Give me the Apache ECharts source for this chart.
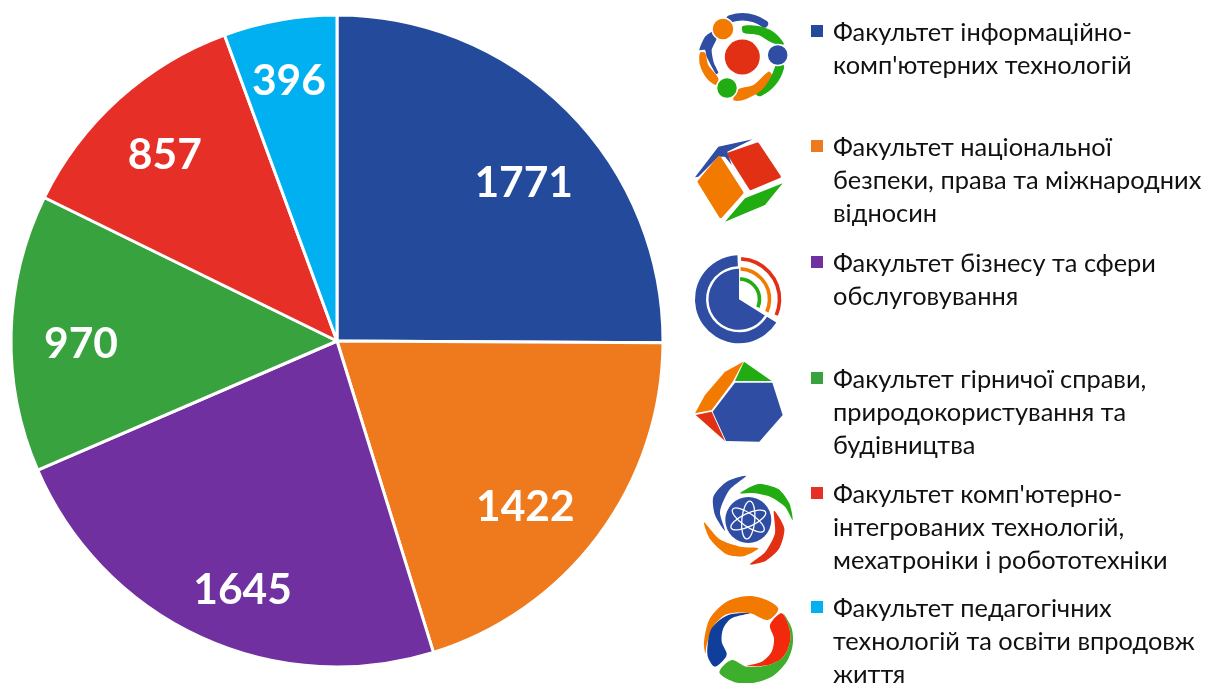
<!DOCTYPE html>
<html><head><meta charset="utf-8">
<style>html,body{margin:0;padding:0;background:#fff;overflow:hidden}#c{width:1205px;height:683px}</style>
<script src="https://cdn.jsdelivr.net/npm/echarts@6/dist/echarts.min.js"></script>
</head><body><div id="c"></div>
<script>
const categories = [
  "Факультет інформаційно-комп'ютерних технологій",
  "Факультет національної безпеки, права та міжнародних відносин",
  "Факультет бізнесу та сфери обслуговування",
  "Факультет гірничої справи, природокористування та будівництва",
  "Факультет комп'ютерно-інтегрованих технологій, мехатроніки і робототехніки",
  "Факультет педагогічних технологій та освіти впродовж життя"
];
const legendLines = [
  ["Факультет інформаційно-", "комп'ютерних технологій"],
  ["Факультет національної", "безпеки, права та міжнародних", "відносин"],
  ["Факультет бізнесу та сфери", "обслуговування"],
  ["Факультет гірничої справи,", "природокористування та", "будівництва"],
  ["Факультет комп'ютерно-", "інтегрованих технологій,", "мехатроніки і робототехніки"],
  ["Факультет педагогічних", "технологій та освіти впродовж", "життя"]
];
const values = [1771, 1422, 1645, 970, 857, 396];
const colors = ['#234A9B', '#EF7A1D', '#70309F', '#38A23F', '#E62F27', '#00B0F0'];
const legendFirstLineY = [33, 148, 264, 380, 495, 609];
const labelShift = [[69,-41],[55,67],[-25,99],[-90,7],[-61,-62],[-19,-96]];

const FONT = 'Lato';
const LH = 33;
const el = [];
const B='#2E4DA3', O='#F27A00', R='#E23014', G='#21AD12';
function poly(ox,oy,pts,fill,smooth,sw){
  el.push({type:'polygon',silent:true,shape:{points:pts.map(p=>[ox+p[0]/3,oy+p[1]/3]),smooth:smooth||0},
    style:{fill:fill,stroke:sw?fill:null,lineWidth:sw||0,lineJoin:'round'}});
}
function circ(x,y,r,fill,halo){el.push({type:'circle',silent:true,shape:{cx:x,cy:y,r:r},style:{fill:fill,stroke:halo?'#fff':null,lineWidth:halo?1.5:0}});}
function arc(x,y,r,a,b,stroke,w,cap){
  el.push({type:'arc',silent:true,shape:{cx:x,cy:y,r:r,startAngle:a*Math.PI/180,endAngle:b*Math.PI/180,clockwise:true},style:{fill:null,stroke:stroke,lineWidth:w,lineCap:cap||'butt'}});
}
function sect(x,y,r0,r,a,b,fill){
  el.push({type:'sector',silent:true,shape:{cx:x,cy:y,r0:r0,r:r,startAngle:a*Math.PI/180,endAngle:b*Math.PI/180,clockwise:true},style:{fill:fill}});
}
// logo 1
arc(742,57,40,253,304,B,7.5,'round');
poly(690,0,[[158,78],[205,78],[250,95],[282,132],[250,130],[205,105],[160,98]],G,0.3);
arc(742,57,39,15,63,G,9,'round');
poly(690,0,[[235,215],[245,225],[215,270],[160,300],[130,300],[145,268],[190,255]],O,0.3);
poly(690,0,[[30,158],[45,158],[55,195],[85,235],[78,255],[50,235],[30,195]],O,0.3);
poly(690,0,[[28,150],[45,110],[68,95],[80,115],[65,150],[72,190],[85,218],[78,222],[50,170],[45,150]],B,0.2);
circ(742.3,57,17.5,R); circ(777.7,55,10.5,B,1); circ(723,29,11,O,1); circ(727,88,10.5,G,1);
// logo 2
poly(690,0,[[15,532],[85,440],[188,418],[112,455],[125,495],[105,470],[85,470],[25,530]],B);
poly(690,0,[[27,545],[88,472],[156,578],[92,650]],O,0,3);
poly(690,0,[[116,462],[203,432],[268,530],[182,566]],R,0,3);
poly(690,0,[[105,665],[165,595],[278,550],[225,615]],G);
// logo 3
const cx3=739,cy3=299.3;
sect(cx3,cy3,33,44,32,268,B);
sect(cx3,cy3,0,30.5,32,270,B);
arc(cx3,cy3,40.5,273,23,R,3.6);
arc(cx3,cy3,30.5,273,24,O,3.6);
arc(cx3,cy3,20.5,273,23,G,3.6);
// logo 4
poly(690,240,[[68,515],[135,428],[247,428],[278,525],[208,605],[108,603]],B);
poly(690,240,[[162,365],[245,423],[135,423]],G);
poly(690,240,[[15,520],[45,465],[105,395],[160,365],[128,425],[65,510]],O);
poly(690,240,[[17,525],[65,515],[105,603]],R);
// logo 5
poly(690,465,[[168,33],[110,50],[70,95],[75,150],[105,197],[90,140],[118,75]],B,0.25);
poly(690,465,[[150,85],[205,57],[265,72],[298,115],[308,165],[285,125],[240,95],[190,84]],G,0.25);
poly(690,465,[[252,137],[283,190],[268,250],[228,287],[180,298],[225,262],[255,205]],R,0.25);
poly(690,465,[[42,172],[60,222],[110,268],[160,274],[205,250],[150,245],[88,222]],O,0.25);
circ(748.3,520,23,B);
[25,85,145].forEach(rot=>el.push({type:'ellipse',silent:true,x:748.3,y:520,rotation:rot*Math.PI/180,shape:{cx:0,cy:0,rx:19,ry:6.5},style:{fill:null,stroke:'#fff',lineWidth:1.3}}));
// logo 6
poly(690,465,[[280,445],[305,490],[308,540],[290,590],[245,635],[180,655],[130,650],[88,622],[125,585],[170,605],[235,600],[280,575],[300,530],[298,490]],'#3EAF2C',0.3);
poly(690,465,[[42,530],[60,460],[110,410],[175,393],[230,405],[265,432],[233,465],[180,445],[110,448],[70,485],[50,540],[46,565]],O,0.3);
poly(690,465,[[52,550],[65,490],[115,450],[180,445],[125,460],[100,490],[95,530],[110,570],[75,605],[55,580]],'#0F3F9A',0.3);
poly(690,465,[[240,480],[275,445],[298,490],[300,530],[280,575],[235,600],[170,603],[215,590],[245,560],[252,520]],'#F2290C',0.3);

const legends = categories.map((name,i)=>{
  const h = legendLines[i].length*LH;
  return {
    data:[name], left:811, top:legendFirstLineY[i]-LH/2, orient:'vertical', padding:0, selectedMode:false,
    itemWidth:17, itemHeight:h,
    icon:`path://M0 ${LH/2-8}H12V${LH/2+4}H0Z M0 0L0 0Z M17 ${h}L17 ${h}Z`,
    itemStyle:{borderWidth:0},
    formatter:()=>legendLines[i].join('\n'),
    textStyle:{fontFamily:FONT,fontSize:25.4,lineHeight:LH,color:'#111'}
  };
});

const chart = echarts.init(document.getElementById('c'),null,{renderer:'canvas'});
chart.setOption({
  animation:false,
  backgroundColor:'#fff',
  color:colors,
  legend:legends,
  graphic:{elements:el},
  series:[{
    type:'pie', center:[337,341], radius:[0,326], startAngle:90, clockwise:true,
    minShowLabelAngle:0, avoidLabelOverlap:false, silent:true,
    itemStyle:{borderColor:'#fff',borderWidth:3},
    label:{show:true,position:'inner',formatter:'{c}',color:'#fff',fontFamily:FONT,fontWeight:'bold',fontSize:42.5},
    labelLine:{show:false},
    labelLayout:p=>({dx:labelShift[p.dataIndex][0],dy:labelShift[p.dataIndex][1]}),
    data:categories.map((n,i)=>({name:n,value:values[i]}))
  }]
});
</script></body></html>
